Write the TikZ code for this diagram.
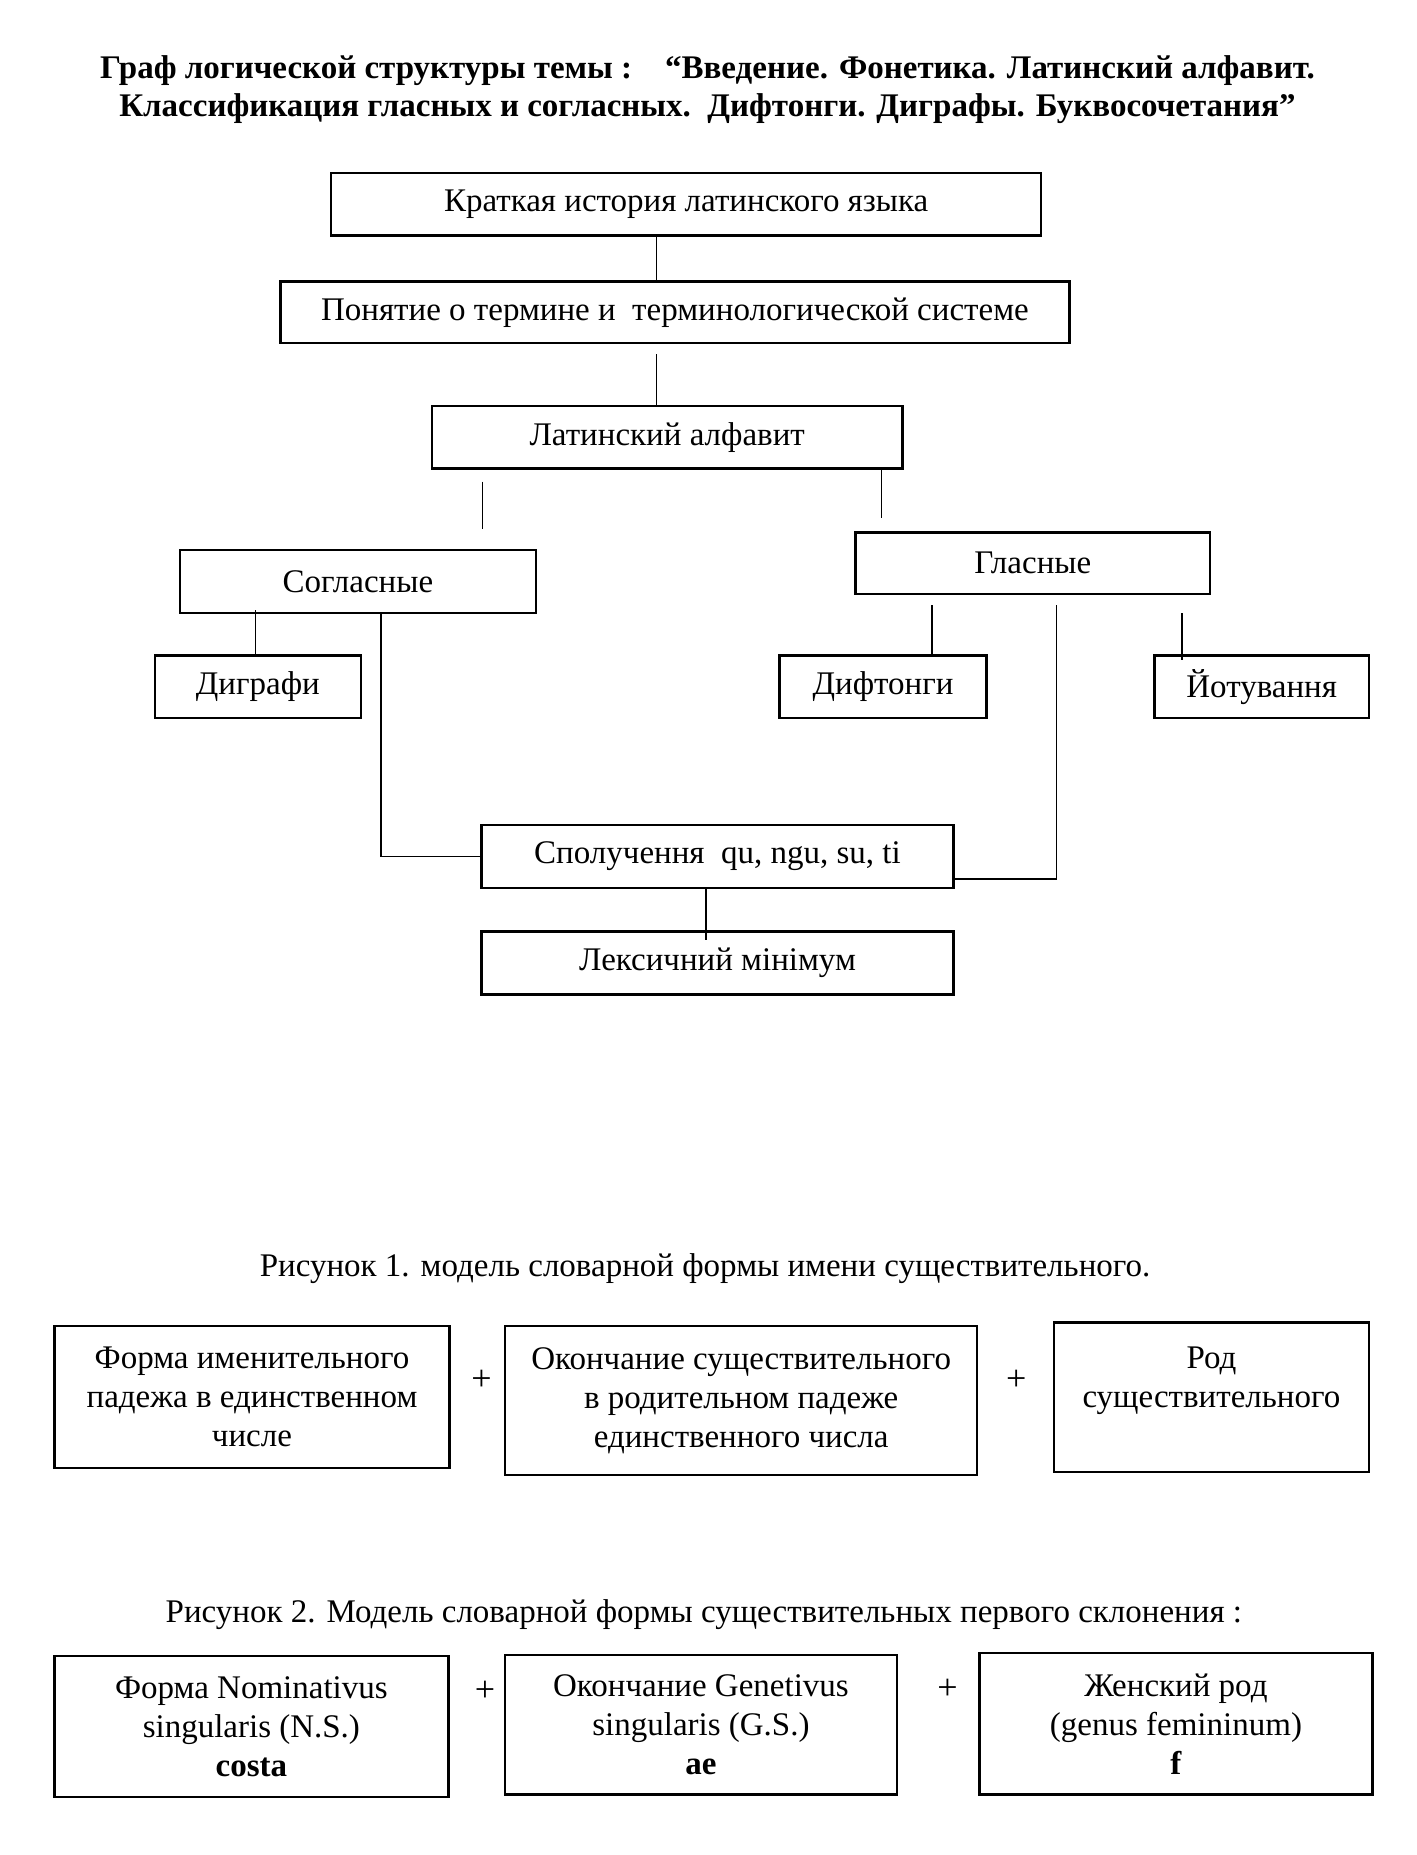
\documentclass[tikz,border=0pt]{standalone}
\usepackage{fontspec}
\setmainfont{Liberation Serif}
\usetikzlibrary{calc}
\def\pu{0.5915pt}
\begin{document}
\begin{tikzpicture}[x=0.5915pt,y=-0.5915pt,
  box/.style={draw,line width=1.2pt,inner sep=0pt,align=center,font=\fontsize{16.5}{19.5}\selectfont},
  conn/.style={line width=0.8pt},
  txt/.style={inner sep=0pt,align=center,font=\fontsize{16.5}{19.5}\selectfont},
  plus/.style={inner sep=0pt,font=\fontsize{18}{20}\selectfont}]
\useasboundingbox (0,0) rectangle (1197,1568);
\fill[white] (0,0) rectangle (1197,1568);

% title
\node[txt,font=\bfseries\fontsize{16.5}{19}\selectfont] (title) at (598,76)
  {Граф логической структуры темы :\quad “Введение. Фонетика. Латинский алфавит.\\
   Классификация гласных и согласных.\ \ Дифтонги. Диграфы. Буквосочетания”};

% graph
\node[box,minimum width=600*\pu,minimum height=53*\pu] (k1) at (580,172.5) {Краткая история латинского языка};
\node[box,minimum width=667*\pu,minimum height=52*\pu] (k2) at (570.5,264) {Понятие о термине и\ \ терминологической системе};
\node[box,minimum width=398*\pu,minimum height=53*\pu] (k3) at (564,369.5) {Латинский алфавит};
\node[box,minimum width=301*\pu,minimum height=53*\pu] (sogl) at (302.5,491.5) {Согласные};
\node[box,minimum width=300*\pu,minimum height=52*\pu] (glas) at (873,476) {Гласные};
\node[box,minimum width=174*\pu,minimum height=53*\pu] (digr) at (218,580.5) {Диграфи};
\node[box,minimum width=175*\pu,minimum height=53*\pu] (dift) at (746.5,580.5) {Дифтонги};
\node[box,minimum width=181*\pu,minimum height=53*\pu] (jot) at (1066.5,580.5) {Йотування};
\node[box,minimum width=399*\pu,minimum height=53*\pu] (spol) at (606.5,724) {Сполучення\ \ qu, ngu, su, ti};
\node[box,minimum width=399*\pu,minimum height=53*\pu] (lex) at (606.5,814) {Лексичний мінімум};

% connector x positions
\coordinate (xa) at (555,0);
\coordinate (xl) at (408,0);
\coordinate (xr) at (745,0);
\coordinate (xd) at (216,0);
\coordinate (xs) at (322,0);
\coordinate (xg) at (893,743);
\coordinate (xf) at (788,0);
\coordinate (xj) at (999,0);
\coordinate (xm) at (597,0);

\draw[conn] (k1.south -| xa) -- (k2.north -| xa);
\draw[conn,shorten <=5pt] (k2.south -| xa) -- (k3.north -| xa);
\draw[conn] ([yshift=-6pt]k3.south -| xl) -- ([yshift=10pt]sogl.north -| xl);
\draw[conn] (k3.south -| xr) -- ([yshift=6.5pt]glas.north -| xr);
\draw[conn] ([yshift=2pt]sogl.south -| xd) -- (digr.north -| xd);
\draw[conn] (sogl.south -| xs) |- (spol.west);
\draw[conn] ([yshift=-5pt]glas.south -| xg) -- (xg) -- (xg -| spol.east);
\draw[conn] ([yshift=-5pt]glas.south -| xf) -- (dift.north -| xf);
\draw[conn] ([yshift=-9pt]glas.south -| xj) -- ([yshift=-3pt]jot.north -| xj);
\draw[conn] (spol.south -| xm) -- ([yshift=-4.7pt]lex.north -| xm);

% figure 1
\node[txt] (cap1) at (596,1072) {Рисунок 1. модель словарной формы имени существительного.};
\node[box,minimum width=334*\pu,minimum height=120*\pu] (a1) at (213,1181)
  {Форма именительного\\падежа в единственном\\числе};
\node[box,minimum width=399*\pu,minimum height=126*\pu] (b1) at (626.5,1184)
  {Окончание существительного\\в родительном падеже\\единственного числа};
\node[box,minimum width=266*\pu,minimum height=126*\pu] (c1) at (1024,1181)
  {Род\\существительного\\\mbox{}};
\node[plus] (p1) at (407,1167) {+};
\node[plus] (p2) at (859,1167) {+};

% figure 2
\node[txt] (cap2) at (595,1365) {Рисунок 2. Модель словарной формы существительных первого склонения :};
\node[box,minimum width=333*\pu,minimum height=119*\pu] (a2) at (212.5,1459.5)
  {Форма Nominativus\\singularis (N.S.)\\\textbf{costa}};
\node[box,minimum width=331*\pu,minimum height=118*\pu] (b2) at (592.5,1458)
  {Окончание Genetivus\\singularis (G.S.)\\\textbf{ae}};
\node[box,minimum width=332*\pu,minimum height=120*\pu] (c2) at (994,1457)
  {Женский род\\(genus femininum)\\\textbf{f}};
\node[plus] (p3) at (410,1430) {+};
\node[plus] (p4) at (801,1428) {+};
\end{tikzpicture}
\end{document}
